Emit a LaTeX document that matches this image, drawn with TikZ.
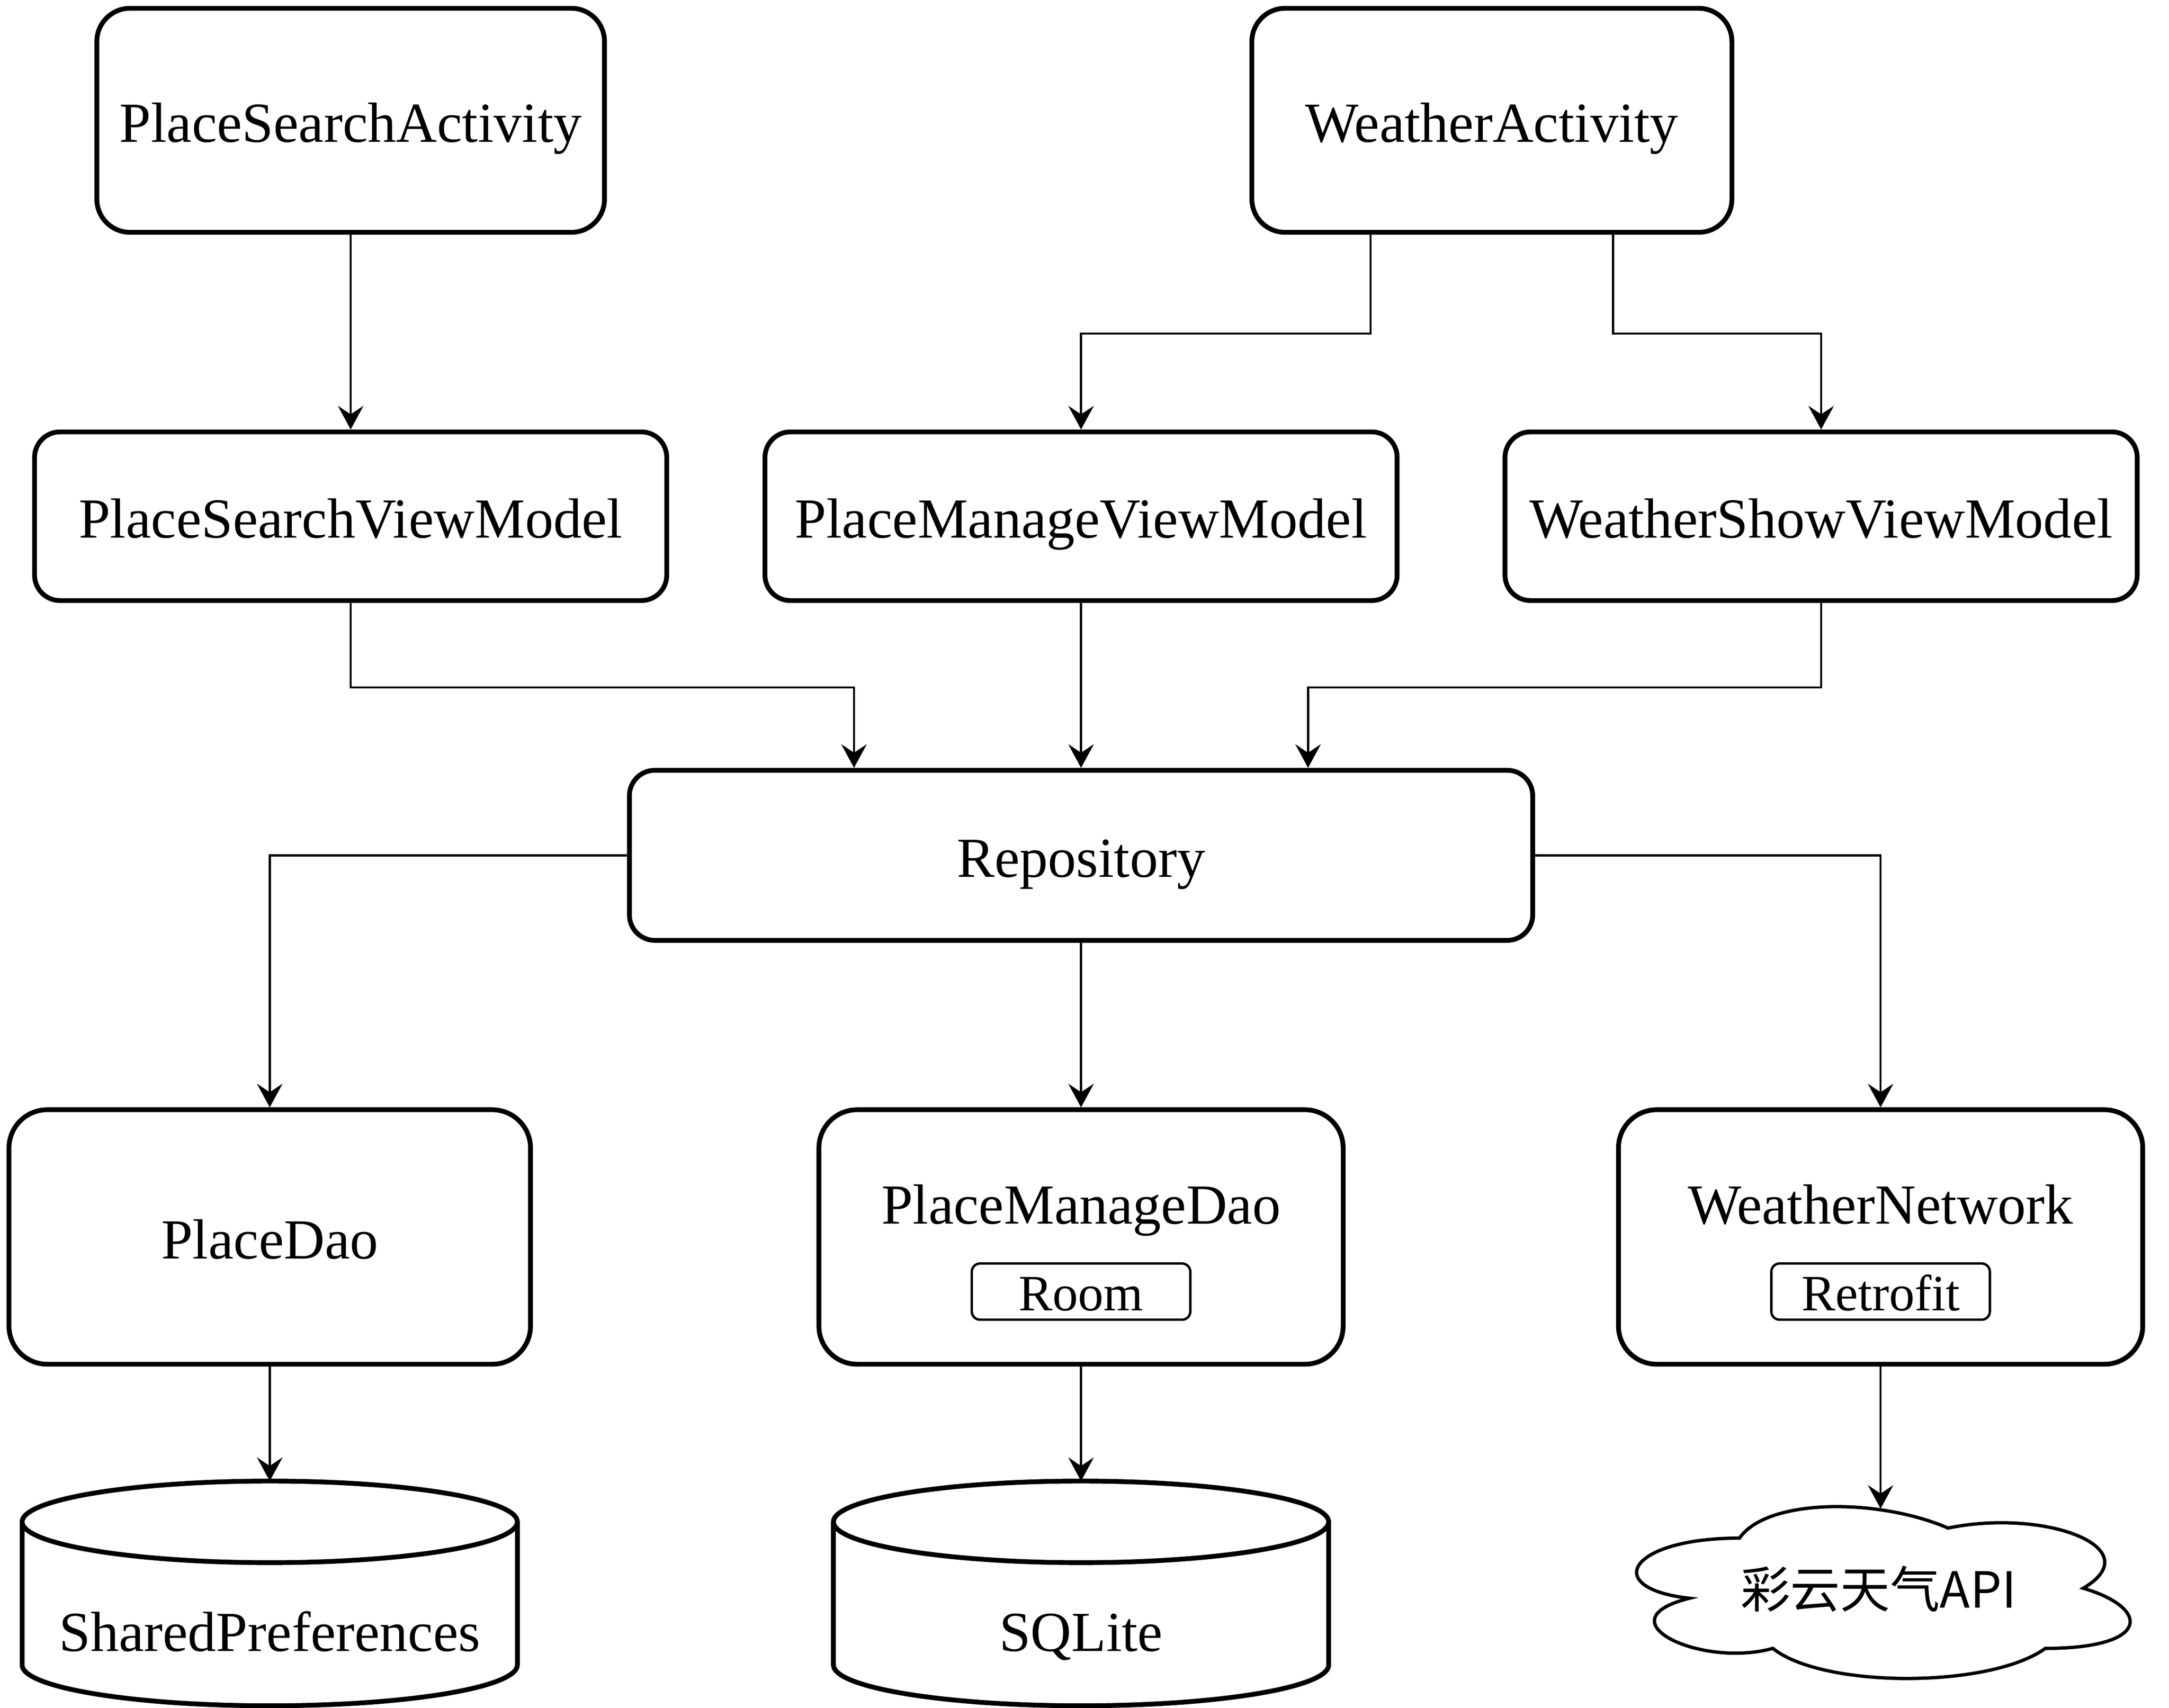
\documentclass[tikz,border=0pt]{standalone}
\usepackage{fontspec}
\setmainfont{Liberation Serif}
\newfontfamily\cjkfont{Noto Sans CJK SC}
\usetikzlibrary{arrows.meta}
\usetikzlibrary{calc}

\begin{document}
\begin{tikzpicture}[x=0.75pt,y=0.75pt,yscale=-1,xscale=1,
  block/.style={draw, line width=2.6pt, fill=white, rounded corners=#1, inner sep=0pt, text height=23.5pt, text depth=0pt, font=\fontsize{30.7}{36}\selectfont},
  libtag/.style={draw, line width=1.3pt, rounded corners=4.5pt, minimum width=118.5pt, minimum height=30.5pt, inner sep=0pt, text height=20.7pt, text depth=0pt, font=\fontsize{27.6}{32}\selectfont},
  nametext/.style={inner sep=0pt, text height=23.5pt, text depth=0pt, font=\fontsize{30.7}{36}\selectfont},
  link/.style={line width=1.15pt, -{Stealth[length=12.8pt, width=13.8pt, inset=4.6pt]}},
  dbline/.style={line width=2.6pt},
  cloudline/.style={line width=1.8pt}]
%set diagram to the size of the page
\useasboundingbox (0,0) rectangle (1568,1235);

%Shape: Rounded Rect
\node[block=18pt, minimum width=275.25pt, minimum height=121.5pt] (psa) at (253.5,87) {PlaceSearchActivity};
%Shape: Rounded Rect
\node[block=18pt, minimum width=260.25pt, minimum height=121.5pt] (wa) at (1078.5,87) {WeatherActivity};
%Shape: Rounded Rect
\node[block=13.8pt, minimum width=342.75pt, minimum height=91.5pt] (psvm) at (253.5,373.3) {PlaceSearchViewModel};
%Shape: Rounded Rect
\node[block=13.8pt, minimum width=342.75pt, minimum height=91.5pt] (pmvm) at (781.5,373.3) {PlaceManageViewModel};
%Shape: Rounded Rect
\node[block=13.8pt, minimum width=342.75pt, minimum height=91.5pt] (wsvm) at (1316.5,373.3) {WeatherShowViewModel};
%Shape: Rounded Rect
\node[block=13.8pt, minimum width=489.75pt, minimum height=92.25pt] (repo) at (781.5,618.5) {Repository};
%Shape: Rounded Rect
\node[block=20.7pt, minimum width=282.75pt, minimum height=138pt] (pdao) at (195,894.5) {PlaceDao};
%Shape: Rounded Rect
\node[block=20.7pt, minimum width=284.25pt, minimum height=138pt] (pmdao) at (781.5,894.5) {};
%Shape: Rounded Rect
\node[block=20.7pt, minimum width=284.25pt, minimum height=138pt] (wnet) at (1359.5,894.5) {};

% Text Node
\node[nametext] (pmdao-name) at (781.5,869.3) {PlaceManageDao};
\node[libtag] (room) at (781.5,934) {Room};
% Text Node
\node[nametext] (wnet-name) at (1359.5,869.3) {WeatherNetwork};
\node[libtag] (retrofit) at (1359.5,934) {Retrofit};

%Shape: Can
\draw[dbline] (16,1100.5) -- (16,1204) arc[start angle=180, end angle=0, x radius=179, y radius=29.5] -- (374,1100.5) ;
\draw[dbline] (195,1100.5) ellipse [x radius=179, y radius=29.5] ;
\coordinate (sp-top) at (195,1071);
\node[nametext] (sp) at (195,1178.3) {SharedPreferences};
%Shape: Can
\draw[dbline] (602.5,1100.5) -- (602.5,1204) arc[start angle=180, end angle=0, x radius=179, y radius=29.5] -- (960.5,1100.5) ;
\draw[dbline] (781.5,1100.5) ellipse [x radius=179, y radius=29.5] ;
\coordinate (sq-top) at (781.5,1071);
\node[nametext] (sq) at (781.5,1178.3) {SQLite};

%Shape: Cloud
\draw[cloudline] (1257.5,1112.25) .. controls (1177.1,1112.25) and (1157,1148.5) .. (1221.3,1155.75)
  .. controls (1157,1171.7) and (1229.4,1206.5) .. (1281.6,1192)
  .. controls (1317.8,1221) and (1438.4,1221) .. (1478.6,1192)
  .. controls (1555,1192) and (1555,1163) .. (1506,1148.5)
  .. controls (1555,1119.5) and (1478.6,1090.5) .. (1408.25,1105)
  .. controls (1358,1083.25) and (1277.6,1083.25) .. (1257.5,1112.25) -- cycle ;
\coordinate (cloud-top) at (1359.5,1091);
% Text Node
\node[inner sep=0pt, font={\cjkfont\fontsize{27}{32}\selectfont}] (api) at (1358,1149) {彩云天气API};

%Straight Lines
\draw[link] (psa.south) -- (psvm.north);
\draw[link] ($(wa.south west)!.25!(wa.south east)$) -- ++(0,71.5) -| (pmvm.north);
\draw[link] ($(wa.south west)!.75!(wa.south east)$) -- ++(0,71.5) -| (wsvm.north);
\draw[link] (psvm.south) -- ++(0,61) -| ($(repo.north west)!.25!(repo.north east)$);
\draw[link] (pmvm.south) -- (repo.north);
\draw[link] (wsvm.south) -- ++(0,61) -| ($(repo.north west)!.75!(repo.north east)$);
\draw[link] (repo.west) -| (pdao.north);
\draw[link] (repo.south) -- (pmdao.north);
\draw[link] (repo.east) -| (wnet.north);
\draw[link] (pdao.south) -- (sp-top);
\draw[link] (pmdao.south) -- (sq-top);
\draw[link] (wnet.south) -- (cloud-top);

\end{tikzpicture}
\end{document}
